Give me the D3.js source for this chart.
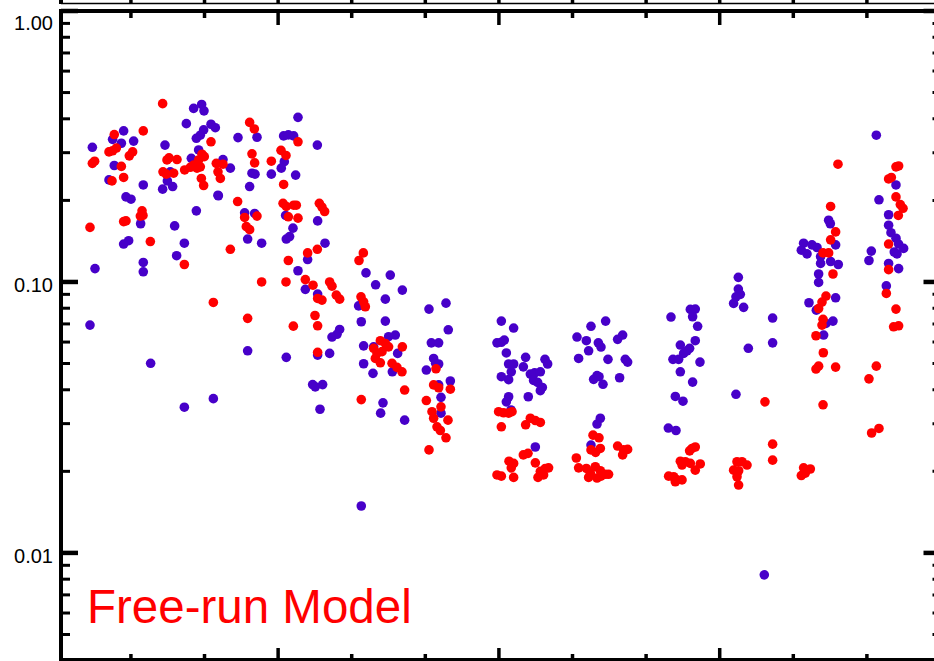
<!DOCTYPE html>
<html>
<head>
<meta charset="utf-8">
<script src="https://cdn.jsdelivr.net/npm/d3@7"></script>
<style>
body { margin: 0; background: #fff; }
svg { display: block; }
</style>
</head>
<body>
<script>
// Scatter of monthly values (x = month position, y = value, log scale)

// Blue series [month, value]
var blueDots = [
  [0.476,0.314],[0.901,0.361],[0.751,0.336],[0.870,0.325],[1.037,0.331],[0.774,0.269],[0.702,0.238],[1.168,0.228],[0.933,0.206],[1.001,0.202],
  [1.463,0.320],[1.852,0.437],[1.961,0.452],[1.993,0.428],[1.753,0.384],[2.088,0.382],[2.147,0.371],[1.988,0.364],[1.943,0.348],[1.889,0.339],
  [1.920,0.307],[1.821,0.286],[1.535,0.255],[1.495,0.236],[1.567,0.225],[1.431,0.220],[2.183,0.209],[1.889,0.183],[1.132,0.164],[1.594,0.161],
  [0.969,0.142],[0.901,0.138],[1.726,0.139],[1.621,0.125],[1.168,0.118],[1.168,0.109],[0.512,0.112],[0.444,0.0693],
  [3.270,0.405],[2.455,0.341],[2.713,0.342],[3.075,0.346],[3.139,0.349],[3.211,0.346],[3.533,0.320],[2.251,0.283],[2.351,0.263],[3.084,0.278],[3.043,0.263],
  [2.645,0.252],[2.686,0.250],[2.908,0.250],[3.238,0.248],[2.613,0.225],[2.545,0.180],[2.681,0.179],[3.102,0.176],[3.202,0.158],[3.111,0.144],[3.156,0.147],
  [3.537,0.168],[2.586,0.144],[2.776,0.139],[3.637,0.139],[3.401,0.121],[3.270,0.110],[3.370,0.0939],[3.537,0.0902],[4.194,0.108],[4.325,0.0976],[4.094,0.0816],
  [2.188,0.208],[1.268,0.0501],[2.586,0.0557],[3.111,0.0527],[1.726,0.0345],[2.120,0.0371],
  [3.836,0.0668],[3.800,0.0641],[3.732,0.0626],[4.130,0.0713],[4.162,0.0581],[3.537,0.0537],[3.700,0.0545],[4.162,0.0499],[3.469,0.0418],[3.505,0.0410],[3.605,0.0418],[3.569,0.0339],[4.130,0.0149],
  [4.524,0.106],[4.688,0.0933],[4.457,0.0864],[4.457,0.0717],[4.592,0.0637],[4.501,0.0628],[4.298,0.0576],[4.624,0.0545],[4.289,0.0460],[4.552,0.0466],[4.425,0.0358],[4.393,0.0328],[4.719,0.0309],
  [5.050,0.0794],[5.281,0.0835],[5.312,0.0666],[5.082,0.0596],[5.181,0.0596],[5.113,0.0522],[5.140,0.0501],[5.181,0.0498],[5.014,0.0473],[5.340,0.0431],[5.181,0.0417],[5.213,0.0375],[5.213,0.0328],
  [6.033,0.0717],[6.200,0.0676],[5.974,0.0596],[6.033,0.0599],[6.073,0.0610],[6.101,0.0547],[6.363,0.0527],[6.626,0.0518],[6.662,0.0498],[6.132,0.0498],[6.200,0.0498],
  [6.332,0.0486],[6.168,0.0466],[6.427,0.0457],[6.485,0.0462],[6.563,0.0466],[6.033,0.0447],[6.132,0.0436],[6.471,0.0433],[6.526,0.0426],[6.590,0.0408],[6.563,0.0397],
  [6.399,0.0377],[6.132,0.0377],[6.101,0.0361],[6.164,0.0337],[6.495,0.0246],
  [7.450,0.0717],[7.251,0.0686],[7.061,0.0626],[7.188,0.0607],[7.351,0.0596],[7.387,0.0575],[7.613,0.0614],[7.681,0.0637],[7.219,0.0557],[7.083,0.0522],[7.482,0.0518],
  [7.717,0.0518],[7.749,0.0506],[7.333,0.0451],[7.287,0.0437],[7.360,0.0447],[7.640,0.0443],[7.414,0.0419],[7.378,0.0314],[7.333,0.0299],[7.251,0.0250],
  [11.128,0.348],[11.164,0.201],[11.395,0.228],[11.295,0.177],[11.295,0.162],[11.327,0.152],[11.395,0.145],[11.431,0.138],[11.499,0.133],[11.372,0.129],[11.409,0.127],
  [11.060,0.130],[11.028,0.120],[11.295,0.117],[11.431,0.112],[11.264,0.0967],
  [10.480,0.169],[10.503,0.164],[10.575,0.137],[10.140,0.139],[10.109,0.131],[10.186,0.127],[10.254,0.137],[10.322,0.134],[10.371,0.124],[10.371,0.117],[10.507,0.119],
  [10.611,0.116],[10.344,0.107],[10.344,0.0996],[10.213,0.0838],[10.313,0.0787],[10.575,0.0874],[10.444,0.0703],[10.539,0.0717],[10.412,0.0637],
  [9.253,0.104],[9.253,0.0941],[9.280,0.0900],[9.221,0.0881],[9.189,0.0833],[9.325,0.0806],[9.719,0.0736],[9.719,0.0596],[9.389,0.0569],[9.221,0.0385],
  [8.601,0.0792],[8.668,0.0794],[8.632,0.0744],[8.338,0.0742],[8.700,0.0686],[8.668,0.0607],[8.591,0.0569],[8.556,0.0557],[8.510,0.0545],[8.465,0.0585],
  [8.365,0.0518],[8.442,0.0518],[8.732,0.0506],[8.465,0.0466],[8.632,0.0427],[8.397,0.0378],[8.501,0.0363],[8.302,0.0289],[8.406,0.0283],
  [9.606,0.0083]
];

// Red series [month, value]
var redDots = [
  [1.431,0.455],[1.168,0.361],[0.774,0.350],[0.802,0.312],[0.751,0.305],[0.702,0.302],[1.023,0.302],[0.978,0.292],[0.507,0.279],[0.476,0.274],
  [0.870,0.267],[0.901,0.243],[0.743,0.236],[2.088,0.329],[1.518,0.287],[1.626,0.283],[1.490,0.282],[1.436,0.255],[1.481,0.250],[1.580,0.252],
  [1.966,0.296],[1.920,0.282],[1.852,0.270],[1.898,0.263],[1.807,0.265],[1.730,0.259],[1.997,0.290],[1.943,0.266],[1.957,0.241],[1.988,0.227],
  [2.160,0.274],[2.251,0.272],[2.183,0.255],[2.215,0.241],[1.151,0.183],[1.164,0.176],[1.128,0.175],[0.933,0.168],[0.901,0.167],[0.444,0.159],[1.264,0.141],
  [2.613,0.388],[2.677,0.367],[2.645,0.297],[2.681,0.275],[2.908,0.279],[3.039,0.306],[3.107,0.293],[3.270,0.329],[3.075,0.229],[2.450,0.198],
  [3.067,0.195],[3.111,0.190],[3.211,0.192],[3.247,0.192],[2.545,0.173],[2.713,0.175],[3.139,0.174],[3.270,0.172],[2.568,0.160],[2.613,0.156],
  [3.560,0.195],[3.596,0.189],[3.632,0.182],[2.351,0.132],[1.726,0.116],[2.776,0.100],[3.107,0.100],[3.139,0.120],[3.401,0.128],[3.533,0.132],
  [3.370,0.102],[3.474,0.0973],[3.700,0.100],[3.732,0.0965],[3.537,0.0869],[3.596,0.0857],[3.791,0.0894],[3.836,0.0864],[4.099,0.120],[4.158,0.128],
  [4.126,0.0881],[4.162,0.0845],[4.185,0.0810],[2.120,0.0840],[2.586,0.0734],[3.207,0.0687],[3.501,0.0752],[3.537,0.0689],[3.537,0.0550],[4.130,0.0368],
  [4.389,0.0607],[4.457,0.0593],[4.501,0.0576],[4.298,0.0569],[4.344,0.0545],[4.412,0.0553],[4.321,0.0522],[4.389,0.0503],[4.548,0.0501],[4.615,0.0484],
  [4.683,0.0466],[4.688,0.0576],[4.719,0.0399],
  [5.145,0.0478],[5.113,0.0417],[5.181,0.0407],[5.340,0.0402],[5.014,0.0365],[5.213,0.0346],[5.091,0.0332],[5.113,0.0314],[5.308,0.0309],[5.159,0.0292],
  [5.204,0.0283],[5.281,0.0266],[5.050,0.0240],
  [5.996,0.0332],[6.064,0.0329],[6.132,0.0328],[6.178,0.0332],[6.033,0.0292],[6.363,0.0297],[6.427,0.0314],[6.495,0.0308],[6.563,0.0303],
  [6.137,0.0218],[6.200,0.0214],[6.168,0.0206],[6.332,0.0230],[6.395,0.0233],[6.495,0.0215],[5.974,0.0194],[6.033,0.0192],[6.200,0.0190],[6.531,0.0190],
  [6.563,0.0200],[6.630,0.0205],[6.675,0.0206],[6.607,0.0194],
  [7.279,0.0272],[7.360,0.0266],[7.251,0.0240],[7.314,0.0235],[7.378,0.0243],[7.613,0.0248],[7.694,0.0240],[7.749,0.0241],[7.681,0.0230],
  [7.052,0.0224],[7.083,0.0206],[7.188,0.0205],[7.242,0.0197],[7.310,0.0208],[7.378,0.0201],[7.446,0.0195],[7.490,0.0195],[7.219,0.0190],[7.333,0.0189],[7.387,0.0192],
  [10.607,0.272],[11.395,0.266],[11.431,0.268],[11.295,0.240],[11.332,0.243],[11.395,0.206],[11.454,0.193],[11.491,0.187],[11.427,0.176],[11.295,0.138],
  [11.295,0.111],[11.264,0.0907],[11.395,0.0794],[11.363,0.0683],[11.431,0.0689],[11.128,0.0489],[11.028,0.0439],[11.164,0.0288],[11.064,0.0277],
  [10.507,0.190],[10.575,0.153],[10.507,0.143],[10.404,0.128],[10.480,0.128],[10.539,0.107],[10.444,0.0887],[10.390,0.0843],[10.344,0.0798],[10.404,0.0728],
  [10.390,0.0693],[10.308,0.0633],[10.408,0.0548],[10.344,0.0489],[10.308,0.0477],[10.575,0.0485],[10.404,0.0352],
  [9.615,0.0361],[9.719,0.0252],[9.719,0.0220],[9.235,0.0217],[9.303,0.0217],[9.371,0.0211],[9.189,0.0202],[9.257,0.0201],[9.235,0.0191],[9.257,0.0178],
  [8.624,0.0243],[8.668,0.0246],[8.591,0.0238],[8.465,0.0218],[8.533,0.0217],[8.601,0.0214],[8.736,0.0213],[8.668,0.0202],[8.488,0.0211],[8.306,0.0192],
  [8.374,0.0191],[8.420,0.0186],[8.488,0.0186],[8.397,0.0183],
  [10.109,0.0193],[10.163,0.0197],[10.231,0.0204],[10.140,0.0206]
];

// Tick values and labels
var xTicks = [1, 2, 3, 4, 5, 6, 7, 8, 9, 10, 11];
var xMajor = [3, 6, 9];
var yMajor = [0.01, 0.1, 1];
var yLabels = ["0.01", "0.10", "1.00"];
var legendText = "Free-run Model";

// Width and height
var w = 934;
var h = 661;

var blue = "#4700c9";
var red = "#ff0000";

// Scales
var xScale = d3.scaleLinear()
    .domain([0.05, 12])
    .range([61, 940.5]);

var yScale = d3.scaleLog()
    .domain([0.004025, 1])
    .range([660, 11]);

var plotLeft = xScale.range()[0], plotRight = xScale.range()[1];
var plotTop = yScale.range()[1], plotBottom = yScale.range()[0];

// minor ticks of the log axis
var yMinor = [];
[0.001, 0.01, 0.1].forEach(function(d) {
    for (var m = 2; m <= 9; m++) {
        var v = +(m * d).toPrecision(3);
        if (v >= yScale.domain()[0] && v <= 1) yMinor.push(v);
    }
});

var svg = d3.select("body")
    .append("svg")
    .attr("width", w)
    .attr("height", h);

// Bottom edge of the panel above (cut off)
svg.append("line")
    .attr("x1", plotLeft).attr("x2", w)
    .attr("y1", 3.5).attr("y2", 3.5)
    .attr("stroke", "#000").attr("stroke-width", 1.7);
svg.append("line")
    .attr("x1", plotLeft).attr("x2", plotLeft)
    .attr("y1", 0).attr("y2", 4)
    .attr("stroke", "#000").attr("stroke-width", 4);
svg.selectAll(".uptick")
    .data(xTicks)
    .enter().append("line")
    .attr("x1", function(d) { return xScale(d); })
    .attr("x2", function(d) { return xScale(d); })
    .attr("y1", 0).attr("y2", 3.5)
    .attr("stroke", "#000").attr("stroke-width", 3.5);

// Dots
svg.selectAll(".blue")
    .data(blueDots)
    .enter().append("circle")
    .attr("cx", function(d) { return xScale(d[0]); })
    .attr("cy", function(d) { return yScale(d[1]); })
    .attr("r", 4.8)
    .attr("fill", blue);

svg.selectAll(".red")
    .data(redDots)
    .enter().append("circle")
    .attr("cx", function(d) { return xScale(d[0]); })
    .attr("cy", function(d) { return yScale(d[1]); })
    .attr("r", 4.8)
    .attr("fill", red);

// Frame
svg.append("rect")
    .attr("x", plotLeft).attr("y", plotTop)
    .attr("width", plotRight - plotLeft).attr("height", plotBottom - plotTop)
    .attr("fill", "none")
    .attr("stroke", "#000")
    .attr("stroke-width", 4);

// x ticks top and bottom
var xt = svg.append("g");
xTicks.forEach(function(d) {
    var major = xMajor.indexOf(d) >= 0;
    xt.append("line")
        .attr("x1", xScale(d)).attr("x2", xScale(d))
        .attr("y1", plotTop).attr("y2", plotTop + (major ? 14 : 7))
        .attr("stroke", "#000").attr("stroke-width", 3.5);
    xt.append("line")
        .attr("x1", xScale(d)).attr("x2", xScale(d))
        .attr("y1", plotBottom).attr("y2", plotBottom - (major ? 12 : 6))
        .attr("stroke", "#000").attr("stroke-width", 3.5);
});

// y ticks left and right
var yt = svg.append("g");
yMinor.forEach(function(d) {
    yt.append("line")
        .attr("x1", plotLeft).attr("x2", plotLeft + 9)
        .attr("y1", yScale(d)).attr("y2", yScale(d))
        .attr("stroke", "#000").attr("stroke-width", 3);
    yt.append("line")
        .attr("x1", plotRight).attr("x2", plotRight - 8)
        .attr("y1", yScale(d)).attr("y2", yScale(d))
        .attr("stroke", "#000").attr("stroke-width", 3);
});
yMajor.forEach(function(d) {
    yt.append("line")
        .attr("x1", plotLeft).attr("x2", plotLeft + 17)
        .attr("y1", yScale(d)).attr("y2", yScale(d))
        .attr("stroke", "#000").attr("stroke-width", 4.5);
    yt.append("line")
        .attr("x1", plotRight).attr("x2", plotRight - 17)
        .attr("y1", yScale(d)).attr("y2", yScale(d))
        .attr("stroke", "#000").attr("stroke-width", 4.5);
});

// y labels
svg.selectAll(".ylab")
    .data(yMajor)
    .enter().append("text")
    .attr("x", 53)
    .attr("y", function(d) { return Math.max(yScale(d) + 3.5, 22.5) + 7; })
    .style("text-anchor", "end")
    .style("font", "20px 'Liberation Sans', Arial, sans-serif")
    .text(function(d, i) { return yLabels[i]; });

// Legend
svg.append("text")
    .attr("x", 87)
    .attr("y", 623)
    .attr("fill", red)
    .style("font", "47.5px 'Liberation Sans', Arial, sans-serif")
    .text(legendText);
</script>
</body>
</html>
